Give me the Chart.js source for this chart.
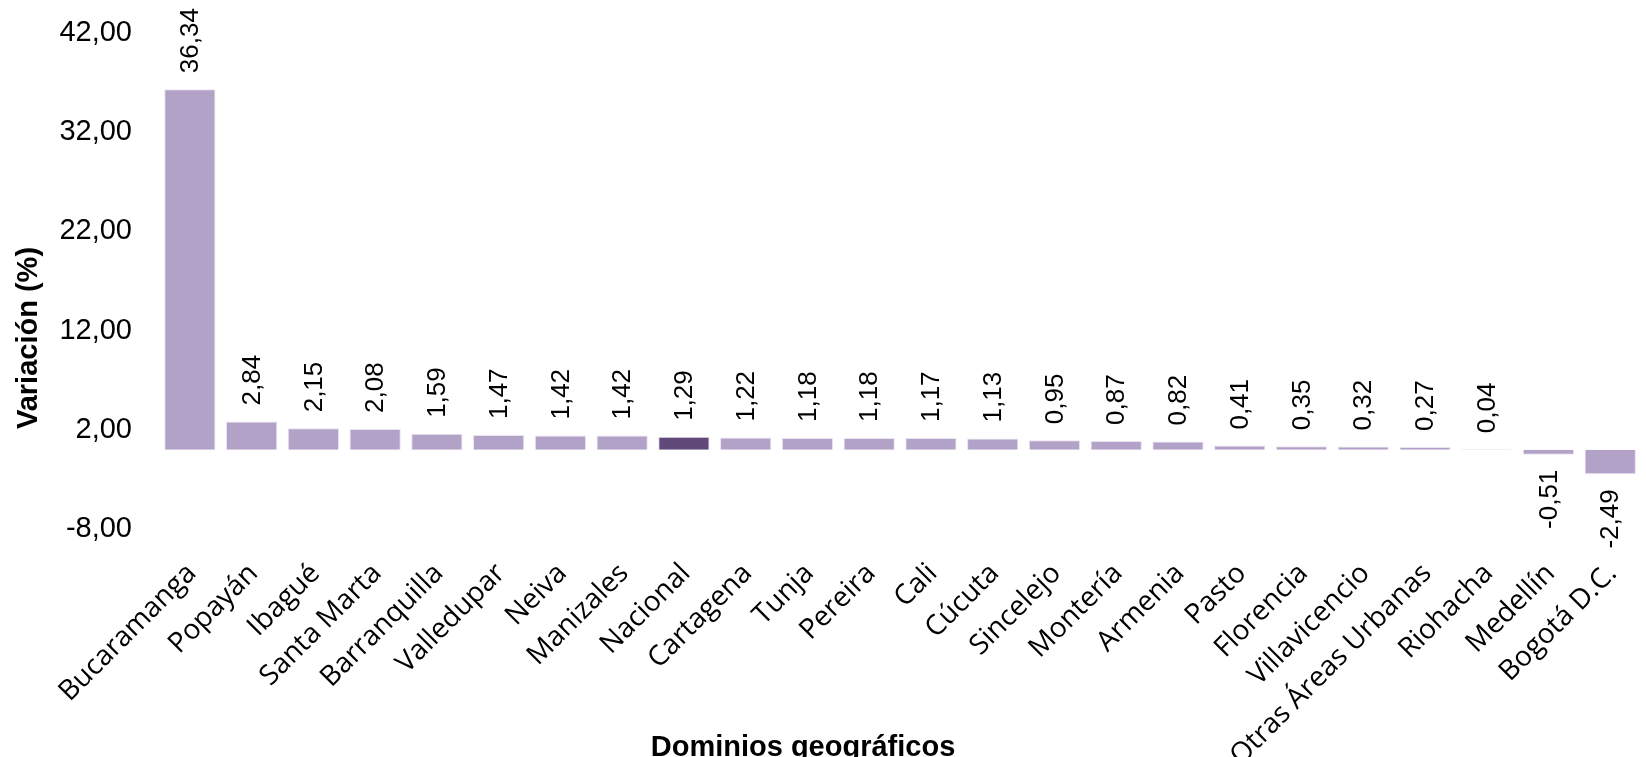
<!DOCTYPE html>
<html>
<head>
<meta charset="utf-8">
<script src="https://cdn.jsdelivr.net/npm/chart.js@4"></script>
<style>
  html, body { margin: 0; padding: 0; background: #fff; overflow: hidden; width: 1646px; height: 757px; }
  #wrap { width: 1662px; height: 757px; }
</style>
</head>
<body>
<div id="wrap"><canvas id="c" width="1662" height="757"></canvas></div>
<script>
const categories = ["Bucaramanga", "Popayán", "Ibagué", "Santa Marta", "Barranquilla", "Valledupar", "Neiva", "Manizales", "Nacional", "Cartagena", "Tunja", "Pereira", "Cali", "Cúcuta", "Sincelejo", "Montería", "Armenia", "Pasto", "Florencia", "Villavicencio", "Otras Áreas Urbanas", "Riohacha", "Medellín", "Bogotá D.C."];
const variacion = [36.34, 2.84, 2.15, 2.08, 1.59, 1.47, 1.42, 1.42, 1.29, 1.22, 1.18, 1.18, 1.17, 1.13, 0.95, 0.87, 0.82, 0.41, 0.35, 0.32, 0.27, 0.04, -0.51, -2.49];
const yTicks = [-8, 2, 12, 22, 32, 42];
const highlight = "Nacional";
const yTitle = "Variación (%)";
const xTitle = "Dominios geográficos";

const fmt = v => v.toFixed(2).replace('.', ',');
const barColors = categories.map(c => c === highlight ? '#614a7a' : '#b3a2c7');

const labelPlugin = {
  id: 'valueLabels',
  afterDatasetsDraw(chart) {
    const ctx = chart.ctx;
    const meta = chart.getDatasetMeta(0);
    ctx.save();
    ctx.font = '26px "Liberation Sans", Arial, sans-serif';
    ctx.fillStyle = '#000';
    ctx.textBaseline = 'middle';
    meta.data.forEach((bar, i) => {
      const v = variacion[i];
      ctx.save();
      if (v >= 0) {
        ctx.translate(bar.x + 1, bar.y - 16);
        ctx.rotate(-Math.PI / 2);
        ctx.textAlign = 'left';
      } else {
        ctx.translate(bar.x + 1, bar.y + 15);
        ctx.rotate(-Math.PI / 2);
        ctx.textAlign = 'right';
      }
      ctx.fillText(fmt(v), 0, 0);
      ctx.restore();
    });
    ctx.restore();
  },
  afterDraw(chart) {
    const ctx = chart.ctx;
    ctx.save();
    ctx.fillStyle = '#000';
    ctx.font = 'bold 29px "Liberation Sans", Arial, sans-serif';
    ctx.textAlign = 'center';
    ctx.textBaseline = 'middle';
    ctx.save();
    ctx.translate(29, 338);
    ctx.rotate(-Math.PI / 2);
    ctx.fillText(yTitle, 0, 0);
    ctx.restore();
    ctx.textBaseline = 'alphabetic';
    ctx.fillText(xTitle, 803, 756);
    ctx.restore();
  }
};

new Chart(document.getElementById('c'), {
  type: 'bar',
  data: {
    labels: categories,
    datasets: [{
      data: variacion,
      backgroundColor: barColors,
      borderColor: 'rgba(230,224,238,0.9)',
      borderWidth: 1,
      barPercentage: 0.83,
      categoryPercentage: 1.0
    }]
  },
  options: {
    responsive: false,
    animation: false,
    layout: { padding: { top: 33, right: 0, left: 0, bottom: 0 } },
    plugins: { legend: { display: false }, tooltip: { enabled: false } },
    scales: {
      x: {
        grid: { display: false, drawTicks: false },
        border: { display: false },
        ticks: {
          autoSkip: false,
          maxRotation: 45,
          minRotation: 45,
          padding: 28,
          labelOffset: 2,
          color: '#000',
          font: { family: '"Open Sans", sans-serif', size: 28 }
        },
        afterFit(scale) { scale.height = 228; }
      },
      y: {
        min: -8,
        max: 42,
        grid: { display: true, drawOnChartArea: false, drawTicks: true, tickLength: 27, color: 'rgba(0,0,0,0)' },
        border: { display: false },
        afterBuildTicks(scale) { scale.ticks = yTicks.map(v => ({ value: v })); },
        ticks: {
          padding: 0,
          color: '#000',
          font: { family: '"Liberation Sans", Arial, sans-serif', size: 29 },
          callback: v => fmt(v)
        },
        afterFit(scale) { scale.width = 159; }
      }
    }
  },
  plugins: [labelPlugin]
});
</script>
</body>
</html>
